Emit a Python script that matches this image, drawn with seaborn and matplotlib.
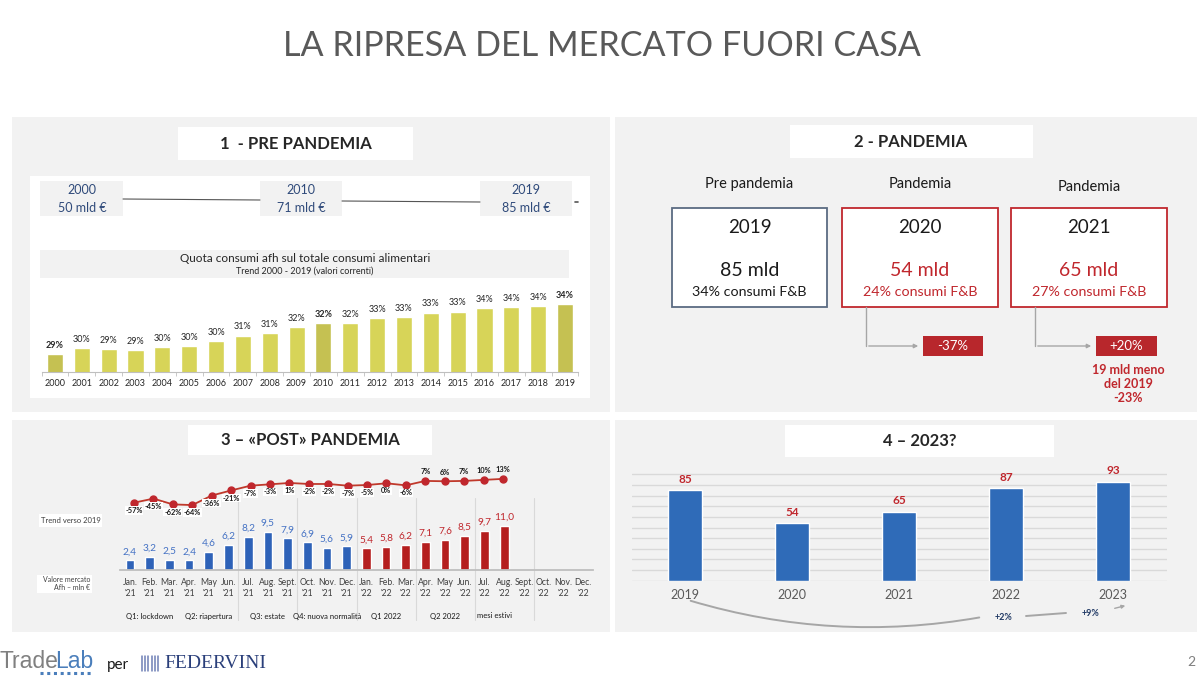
import numpy as np
import pandas as pd
import matplotlib
matplotlib.use("Agg")
import matplotlib.pyplot as plt
import seaborn as sns
from matplotlib.patches import Rectangle, FancyArrowPatch
from matplotlib.lines import Line2D

sns.set_style("white")
plt.rcParams['font.family'] = ['Lato', 'DejaVu Sans']

# ---------------- data ----------------
years_pre = [str(y) for y in range(2000, 2020)]
share_afh = [28.9, 29.5, 29.4, 29.3, 29.6, 29.7, 30.2, 30.8, 31.1, 31.7,
             32.1, 32.1, 32.6, 32.7, 33.2, 33.3, 33.7, 33.8, 33.9, 34.1]
share_labels = [29, 30, 29, 29, 30, 30, 30, 31, 31, 32,
                32, 32, 33, 33, 33, 33, 34, 34, 34, 34]
highlight_years = ["2000", "2010", "2019"]
milestones = [("2000", "50 mld €"), ("2010", "71 mld €"), ("2019", "85 mld €")]

pand_years = ["2019", "2020", "2021"]
pand_heads = ["Pre pandemia", "Pandemia", "Pandemia"]
pand_values = ["85 mld", "54 mld", "65 mld"]
pand_share = ["34% consumi F&B", "24% consumi F&B", "27% consumi F&B"]
pand_delta = ["-37%", "+20%"]

months = ["Jan.\n'21", "Feb.\n'21", "Mar.\n'21", "Apr.\n'21", "May\n'21", "Jun.\n'21",
          "Jul.\n'21", "Aug.\n'21", "Sept.\n'21", "Oct.\n'21", "Nov.\n'21", "Dec.\n'21",
          "Jan.\n'22", "Feb.\n'22", "Mar.\n'22", "Apr.\n'22", "May\n'22", "Jun.\n'22",
          "Jul.\n'22", "Aug.\n'22", "Sept.\n'22", "Oct.\n'22", "Nov.\n'22", "Dec.\n'22"]
market_value = [2.4, 3.2, 2.5, 2.4, 4.6, 6.2, 8.2, 9.5, 7.9, 6.9, 5.6, 5.9,
                5.4, 5.8, 6.2, 7.1, 7.6, 8.5, 9.7, 11.0]
trend_vs_2019 = [-57, -45, -62, -64, -36, -21, -7, -3, 1, -2, -2, -7,
                 -5, 0, -6, 7, 6, 7, 10, 13]
quarters = ["Q1: lockdown", "Q2: riapertura", "Q3: estate", "Q4: nuova normalità",
            "Q1 2022", "Q2 2022", "mesi estivi"]
quarter_pos = [1, 4, 7, 10, 13, 16, 18.5]
separators = [5.5, 8.5, 11.5, 14.5, 17.5, 20.5]

years_fc = ["2019", "2020", "2021", "2022", "2023"]
value_fc = [85, 54, 65, 87, 93]
growth_fc = ["+2%", "+9%"]

# ---------------- helpers ----------------
W, H = 1200, 676
fig = plt.figure(figsize=(12, 6.76), dpi=100)
fig.patch.set_facecolor("white")


def fx(x):
    return x / W


def fy(y):
    return 1 - y / H


def rect(x0, y0, x1, y1, fc="white", ec="none", lw=0, z=-5):
    fig.add_artist(Rectangle((fx(x0), fy(y1)), (x1 - x0) / W, (y1 - y0) / H,
                             transform=fig.transFigure, facecolor=fc,
                             edgecolor=ec, linewidth=lw, zorder=z))


def text(x, y, s, **kw):
    kw.setdefault("ha", "center")
    kw.setdefault("va", "center")
    return fig.text(fx(x), fy(y), s, **kw)


def line(xs, ys, **kw):
    fig.add_artist(Line2D([fx(v) for v in xs], [fy(v) for v in ys],
                          transform=fig.transFigure, **kw))


def add_ax(x0, y0, x1, y1):
    ax = fig.add_axes([fx(x0), fy(y1), (x1 - x0) / W, (y1 - y0) / H])
    ax.set_facecolor("none")
    for s in ax.spines.values():
        s.set_visible(False)
    return ax


BG = "#f2f2f2"
RED = "#c0272d"
TS = 12  # panel title size

# ---------------- title ----------------
text(602, 46, "LA RIPRESA DEL MERCATO FUORI CASA", fontsize=24.6,
     color="#595959", fontweight="normal")

# ---------------- panel 1 ----------------
rect(12, 117, 610, 412, fc=BG, z=-10)
rect(178, 127, 413, 160)
text(296, 144, "1  - PRE PANDEMIA", fontsize=TS, fontweight="bold")
rect(30, 176, 590, 398)
mx = [82, 301, 526]
mbox = [(40, 123), (260, 342), (480, 572)]
for (yr, val), cx, (b0, b1) in zip(milestones, mx, mbox):
    rect(b0, 181, b1, 216, fc=BG, z=-4)
    text(cx, 190, yr, fontsize=9, color="#2f4a7a")
    text(cx, 208, val, fontsize=9, color="#2f4a7a")
line([123, 260], [199, 200], color="#555555", lw=0.8)
line([342, 480], [201, 202], color="#555555", lw=0.8)
line([575, 578], [202, 202], color="#555555", lw=1.2)
rect(40, 250, 569, 278, fc=BG, z=-4)
text(305, 259, "Quota consumi afh sul totale consumi alimentari", fontsize=8.5)
text(305, 271, "Trend 2000 - 2019 (valori correnti)", fontsize=6.5)

ax1 = add_ax(41.6, 290, 578.4, 372)
df1 = pd.DataFrame({"year": years_pre, "share": share_afh})
pal1 = {y: ("#c5c152" if y in highlight_years else "#d7d458") for y in years_pre}
sns.barplot(data=df1, x="year", y="share", hue="year", palette=pal1,
            width=0.6, legend=False, ax=ax1, saturation=1)
ax1.set_ylim(27.0, 35.55)
ax1.set_xlim(-0.5, len(years_pre) - 0.5)
ax1.set_yticks([])
ax1.set_xlabel("")
ax1.set_ylabel("")
ax1.spines["bottom"].set_visible(True)
ax1.spines["bottom"].set_color("#bfbfbf")
ax1.set_xticks(range(len(years_pre)))
ax1.set_xticklabels(years_pre, fontsize=6.5, color="#262626")
ax1.set_xticks(np.arange(-0.5, len(years_pre), 1), minor=True)
ax1.tick_params(axis="x", which="major", length=0, pad=5)
ax1.tick_params(axis="x", which="minor", length=3, color="#bfbfbf", bottom=True)
for i, (v, lab) in enumerate(zip(share_afh, share_labels)):
    bold = years_pre[i] in highlight_years
    ax1.annotate(f"{lab}%", (i, v), xytext=(0, 3), textcoords="offset points",
                 ha="center", va="bottom", fontsize=6.5, color="#262626",
                 fontweight="bold" if bold else "normal")

# ---------------- panel 2 ----------------
rect(615, 117, 1197, 412, fc=BG, z=-10)
rect(790, 125, 1033, 158)
text(911, 142, "2 - PANDEMIA", fontsize=TS, fontweight="bold")
bx = [(672, 827), (842, 998), (1011, 1167)]
head_y = [184, 184, 187]
for k in range(3):
    x0, x1 = bx[k]
    cx = (x0 + x1) / 2
    ec = "#5b6b82" if k == 0 else RED
    vc = "#1a1a1a" if k == 0 else RED
    rect(x0, 208, x1, 307, fc="white", ec=ec, lw=1.3, z=-4)
    text(cx, head_y[k], pand_heads[k], fontsize=10.5, color="#1a1a1a")
    text(cx, 228, pand_years[k], fontsize=13.5, color="#1a1a1a")
    text(cx, 271, pand_values[k], fontsize=14, color=vc)
    text(cx, 292, pand_share[k], fontsize=10.3, color=vc)
for (sx, ex, b0, b1), d in zip([(866, 921, 923, 983), (1035, 1094, 1096, 1157)], pand_delta):
    line([sx, sx], [307, 346], color="#a6a6a6", lw=1)
    fig.add_artist(FancyArrowPatch((fx(sx), fy(346)), (fx(ex), fy(346)),
                                   transform=fig.transFigure, arrowstyle="-|>",
                                   mutation_scale=6, color="#a6a6a6", lw=1))
    rect(b0, 336, b1, 356, fc="#b8272c", z=-4)
    text((b0 + b1) / 2, 346, d, fontsize=9.5, color="white")
text(1128, 384, "19 mld meno\ndel 2019\n-23%", fontsize=9, color=RED,
     fontweight="bold", linespacing=1.2)

# ---------------- panel 3 ----------------
rect(12, 420, 610, 632, fc=BG, z=-10)
rect(188, 425, 432, 455)
text(310, 440, "3 – «POST» PANDEMIA", fontsize=TS, fontweight="bold")
rect(39, 514, 102, 527)
text(70.5, 520.5, "Trend verso 2019", fontsize=5.5, color="#404040")
rect(37, 575, 92, 593)
text(90, 579, "Valore mercato", fontsize=5, color="#404040", ha="right")
text(90, 588, "Afh – mln €", fontsize=5, color="#404040", ha="right")

x0_3, x1_3 = 120.15, 592.85
ax3 = add_ax(x0_3, 520, x1_3, 570)
n_bars = len(market_value)
df3 = pd.DataFrame({"month": months[:n_bars], "value": market_value})
pal3 = {m: ("#2e62b8" if "'21" in m else "#b51f1f") for m in months[:n_bars]}
sns.barplot(data=df3, x="month", y="value", hue="month", order=months,
            palette=pal3, width=0.44, legend=False, ax=ax3, saturation=1)
ax3.set_xlim(-0.5, len(months) - 0.5)
ax3.set_ylim(0, 12.5)
ax3.set_yticks([])
ax3.set_xlabel("")
ax3.set_ylabel("")
ax3.spines["bottom"].set_visible(True)
ax3.spines["bottom"].set_color("#bfbfbf")
ax3.spines["bottom"].set_linewidth(1.3)
ax3.set_xticks(range(len(months)))
ax3.set_xticklabels(months, fontsize=6.2, color="#404040", linespacing=1.3)
ax3.tick_params(axis="x", length=0, pad=6)
for i, v in enumerate(market_value):
    c = "#4472c4" if "'21" in months[i] else RED
    ax3.annotate(f"{v:.1f}".replace(".", ","), (i, v), xytext=(0, 3),
                 textcoords="offset points", ha="center", va="bottom",
                 fontsize=7.3, color=c)
for s in separators:
    ax3.axvline(s, ymin=-1.0, ymax=1.44, clip_on=False, color="#d9d9d9", lw=0.8)
for q, p in zip(quarters, quarter_pos):
    ax3.text(p, -0.92, q, transform=ax3.get_xaxis_transform(), ha="center",
             va="center", fontsize=5.5, color="#1a1a1a")

ax3l = add_ax(124.3, 465, 590.4, 520)
ax3l.plot(range(len(trend_vs_2019)), trend_vs_2019, color="#c0392b", lw=1.3,
          marker="o", markersize=5, markerfacecolor="#c0272d",
          markeredgecolor="#c0272d")
ax3l.set_xlim(-0.5, len(months) - 0.5)
ax3l.set_ylim(-107.9, 53.8)
ax3l.set_xticks([])
ax3l.set_yticks([])
for i, v in enumerate(trend_vs_2019):
    above = i >= 15
    ax3l.annotate(f"{v}%", (i, v), xytext=(0, 6.5 if above else -5.5),
                  textcoords="offset points", ha="center", va="center",
                  fontsize=5.3, fontweight="bold", color="#1a1a1a",
                  bbox=None if above else dict(boxstyle="square,pad=0.1",
                                                fc="white", ec="none"))

# ---------------- panel 4 ----------------
rect(615, 420, 1197, 632, fc=BG, z=-10)
rect(785, 425, 1054, 457)
text(920, 441, "4 – 2023?", fontsize=TS, fontweight="bold")
ax4 = add_ax(631.5, 465, 1166.5, 580.7)
df4 = pd.DataFrame({"year": years_fc, "value": value_fc})
sns.barplot(data=df4, x="year", y="value", color="#2f6bb8", width=0.31,
            ax=ax4, saturation=1, zorder=3)
ax4.set_xlim(-0.5, len(years_fc) - 0.5)
ax4.set_ylim(0, 108.8)
ax4.set_yticks(range(0, 101, 10))
ax4.set_yticklabels([])
ax4.tick_params(axis="y", length=0)
ax4.yaxis.grid(True, color="#d9d9d9", lw=1)
ax4.set_axisbelow(True)
ax4.set_xlabel("")
ax4.set_ylabel("")
ax4.tick_params(axis="x", length=0, pad=6, labelsize=9, labelcolor="#595959")
for i, v in enumerate(value_fc):
    ax4.annotate(str(v), (i, v), xytext=(0, 4), textcoords="offset points",
                 ha="center", va="bottom", fontsize=8.5, fontweight="bold",
                 color=RED)
fig.add_artist(FancyArrowPatch((fx(688), fy(600)), (fx(982), fy(617)),
                               transform=fig.transFigure, arrowstyle="-",
                               connectionstyle="arc3,rad=0.12",
                               color="#a6a6a6", lw=1.4))
text(1003, 617, growth_fc[0], fontsize=6.5, fontweight="bold", color="#1f3864")
line([1026, 1066], [616, 613], color="#a6a6a6", lw=1.4)
text(1090, 614, growth_fc[1], fontsize=6.5, fontweight="bold", color="#1f3864")
fig.add_artist(FancyArrowPatch((fx(1112), fy(609)), (fx(1128), fy(605)),
                               transform=fig.transFigure, arrowstyle="-|>",
                               mutation_scale=5, color="#a6a6a6", lw=1))

# ---------------- footer ----------------
text(0, 662, "Trade", fontsize=16.5, color="#808080", ha="left",
     family="Liberation Sans")
text(55.5, 662, "Lab", fontsize=16.5, color="#4a7ebb", ha="left",
     family="Liberation Sans")
line([40, 93], [673, 673], color="#4a7ebb", lw=2.2, ls=(0, (1, 1.2)))
text(107, 665, "per", fontsize=11, color="#1a1a1a", ha="left")
for k in range(6):
    line([142 + k * 3.2, 142 + k * 3.2], [656, 671], color="#6d7fb5", lw=1.1)
text(164, 664, "FEDERVINI", fontsize=14, color="#2a3f7a", ha="left",
     family="Liberation Serif")
text(1191, 662, "2", fontsize=10, color="#7f7f7f")

fig.savefig("out.png", dpi=100)
